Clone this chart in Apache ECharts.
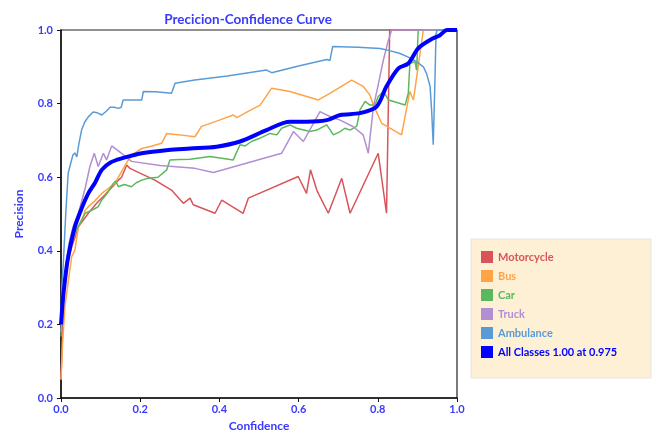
<!DOCTYPE html>
<html>
<head>
<meta charset="utf-8">
<script src="https://cdn.jsdelivr.net/npm/echarts@6/dist/echarts.min.js"></script>
<style>html,body{margin:0;padding:0;background:#fff;}#c{width:658px;height:432px;}</style>
</head>
<body>
<div id="c"></div>
<script>
var xTicks = [0.0, 0.2, 0.4, 0.6, 0.8, 1.0];
var yTicks = [0.0, 0.2, 0.4, 0.6, 0.8, 1.0];
var seriesNames = ['Motorcycle', 'Bus', 'Car', 'Truck', 'Ambulance', 'All Classes 1.00 at 0.975'];

var motorcycle = [[0,0.05],[0.003,0.15],[0.006,0.25],[0.01,0.34],[0.027,0.41],[0.044,0.465],[0.069,0.502],[0.09,0.529],[0.111,0.552],[0.145,0.592],[0.153,0.6],[0.166,0.633],[0.174,0.624],[0.237,0.592],[0.279,0.565],[0.309,0.529],[0.326,0.543],[0.334,0.525],[0.389,0.502],[0.406,0.538],[0.46,0.502],[0.473,0.543],[0.599,0.602],[0.62,0.556],[0.63,0.62],[0.646,0.565],[0.654,0.547],[0.675,0.502],[0.709,0.597],[0.73,0.502],[0.801,0.665],[0.822,0.502],[0.83,1.0],[1,1]];
var bus = [[0,0.05],[0.004,0.15],[0.01,0.25],[0.02,0.33],[0.027,0.384],[0.035,0.402],[0.044,0.465],[0.055,0.49],[0.061,0.51],[0.069,0.52],[0.085,0.535],[0.103,0.556],[0.12,0.57],[0.136,0.583],[0.15,0.61],[0.17,0.647],[0.185,0.665],[0.204,0.678],[0.23,0.685],[0.254,0.692],[0.267,0.719],[0.3,0.715],[0.338,0.71],[0.355,0.738],[0.4,0.755],[0.435,0.769],[0.444,0.762],[0.475,0.78],[0.503,0.796],[0.532,0.842],[0.578,0.833],[0.65,0.81],[0.679,0.828],[0.734,0.864],[0.763,0.847],[0.78,0.823],[0.789,0.796],[0.81,0.746],[0.86,0.715],[0.881,0.833],[0.89,0.81],[0.915,1.0],[1,1]];
var car = [[0,0.167],[0.006,0.275],[0.015,0.37],[0.025,0.42],[0.035,0.448],[0.048,0.475],[0.061,0.502],[0.077,0.51],[0.086,0.515],[0.094,0.52],[0.103,0.538],[0.119,0.56],[0.13,0.58],[0.138,0.59],[0.145,0.574],[0.16,0.58],[0.178,0.574],[0.19,0.585],[0.204,0.592],[0.22,0.597],[0.245,0.6],[0.267,0.62],[0.275,0.647],[0.3,0.648],[0.326,0.649],[0.376,0.656],[0.435,0.647],[0.452,0.688],[0.465,0.685],[0.481,0.697],[0.5,0.705],[0.528,0.719],[0.545,0.715],[0.557,0.733],[0.578,0.742],[0.595,0.733],[0.629,0.724],[0.646,0.728],[0.671,0.742],[0.68,0.728],[0.688,0.715],[0.705,0.724],[0.717,0.733],[0.73,0.728],[0.747,0.739],[0.755,0.783],[0.768,0.806],[0.78,0.796],[0.793,0.796],[0.801,0.819],[0.814,0.833],[0.827,0.81],[0.869,0.796],[0.877,0.828],[0.881,0.909],[0.894,0.914],[0.898,0.891],[0.902,1.0],[1,1]];
var truck = [[0,0.18],[0.008,0.32],[0.02,0.42],[0.032,0.47],[0.044,0.502],[0.061,0.57],[0.073,0.629],[0.084,0.665],[0.094,0.629],[0.107,0.665],[0.115,0.647],[0.128,0.685],[0.153,0.665],[0.178,0.643],[0.25,0.632],[0.338,0.624],[0.385,0.613],[0.557,0.665],[0.587,0.724],[0.612,0.697],[0.654,0.778],[0.679,0.765],[0.705,0.755],[0.738,0.737],[0.763,0.715],[0.776,0.665],[0.789,0.792],[0.801,0.851],[0.814,0.918],[0.827,0.973],[0.835,1.0],[1,1]];
var ambulance = [[0,0.2],[0.002,0.3],[0.006,0.37],[0.012,0.5],[0.018,0.61],[0.025,0.64],[0.03,0.66],[0.035,0.666],[0.04,0.655],[0.045,0.69],[0.052,0.728],[0.06,0.75],[0.069,0.764],[0.081,0.777],[0.092,0.775],[0.103,0.769],[0.115,0.78],[0.124,0.79],[0.135,0.79],[0.145,0.787],[0.152,0.79],[0.157,0.81],[0.18,0.81],[0.204,0.81],[0.208,0.833],[0.24,0.832],[0.279,0.828],[0.288,0.855],[0.338,0.864],[0.42,0.875],[0.519,0.891],[0.532,0.884],[0.6,0.902],[0.671,0.92],[0.679,0.917],[0.686,0.955],[0.75,0.953],[0.806,0.95],[0.83,0.944],[0.856,0.936],[0.88,0.925],[0.898,0.914],[0.915,0.9],[0.923,0.882],[0.932,0.847],[0.936,0.78],[0.94,0.688],[0.944,0.85],[0.947,0.99],[0.95,1.0],[1,1]];
var allClasses = [[0,0.2],[0.005,0.27],[0.01,0.32],[0.016,0.37],[0.023,0.41],[0.035,0.465],[0.052,0.515],[0.069,0.556],[0.086,0.585],[0.103,0.62],[0.125,0.64],[0.153,0.651],[0.204,0.665],[0.271,0.674],[0.326,0.678],[0.393,0.683],[0.452,0.697],[0.519,0.728],[0.578,0.751],[0.62,0.751],[0.671,0.755],[0.705,0.769],[0.755,0.774],[0.797,0.792],[0.822,0.847],[0.852,0.896],[0.877,0.909],[0.902,0.95],[0.932,0.973],[0.957,0.986],[0.975,1.0],[1,1]];

var seriesData = [motorcycle, bus, car, truck, ambulance, allClasses];
var colors = ['#d9545a', '#ffa347', '#5cb85c', '#b28ed2', '#5b9bd5', '#0000ff'];
var widths = [1.5, 1.5, 1.5, 1.5, 1.5, 4];
var labelBlue = '#3a3aff';
var font = 'Lato, "Open Sans", sans-serif';

var chart = echarts.init(document.getElementById('c'), null, {renderer: 'canvas'});
chart.setOption({
  animation: false,
  backgroundColor: '#ffffff',
  title: {
    text: 'Precicion-Confidence Curve',
    left: 243, top: 8, textAlign: 'center',
    textStyle: {color: labelBlue, fontSize: 13.5, fontWeight: 'bold', fontFamily: font}
  },
  graphic: [{
    type: 'rect', z: 0,
    shape: {x: 471, y: 239, width: 180, height: 139},
    style: {fill: '#fdf0d5', stroke: '#e4e4e4', lineWidth: 1}
  }],
  legend: {
    orient: 'vertical', left: 481, top: 251, padding: 0,
    itemWidth: 12, itemHeight: 12, itemGap: 7, icon: 'rect',
    z: 5,
    data: seriesNames.map(function (n, i) {
      return {name: n, itemStyle: {color: colors[i]}, textStyle: {color: colors[i]}};
    }),
    textStyle: {fontSize: 11, fontWeight: 'bold', fontFamily: font}
  },
  grid: {left: 61, right: 201, top: 30, bottom: 34, outerBoundsMode: 'none', containLabel: false,
    show: true, borderColor: '#222', borderWidth: 1.2, backgroundColor: 'transparent'},
  xAxis: {
    type: 'value', min: xTicks[0], max: xTicks[xTicks.length - 1], interval: 0.2,
    name: 'Confidence', nameLocation: 'middle', nameGap: 22,
    nameTextStyle: {color: labelBlue, fontSize: 12, fontWeight: 'bold', fontFamily: font},
    axisLine: {show: true, lineStyle: {color: '#111', width: 1.5}},
    axisTick: {show: true, length: 4, lineStyle: {color: '#111', width: 1}},
    axisLabel: {color: labelBlue, fontSize: 11, fontWeight: 'bold', fontFamily: font, margin: 6,
      formatter: function (v) { return v.toFixed(1); }},
    splitLine: {show: false}
  },
  yAxis: {
    type: 'value', min: yTicks[0], max: yTicks[yTicks.length - 1], interval: 0.2,
    name: 'Precision', nameLocation: 'middle', nameGap: 36, nameRotate: 90,
    nameTextStyle: {color: labelBlue, fontSize: 12, fontWeight: 'bold', fontFamily: font},
    axisLine: {show: true, lineStyle: {color: '#111', width: 1.5}},
    axisTick: {show: true, length: 4, lineStyle: {color: '#111', width: 1}},
    axisLabel: {color: labelBlue, fontSize: 11, fontWeight: 'bold', fontFamily: font, margin: 8,
      formatter: function (v) { return v.toFixed(1); }},
    splitLine: {show: false}
  },
  series: seriesNames.map(function (n, i) {
    return {
      name: n, type: 'line', data: seriesData[i],
      showSymbol: false, symbol: 'none', clip: true,
      smooth: i === 5 ? 0.3 : false,
      z: i === 5 ? 3 : 2,
      itemStyle: {color: colors[i]},
      lineStyle: {color: colors[i], width: widths[i]}
    };
  })
});
</script>
</body>
</html>
